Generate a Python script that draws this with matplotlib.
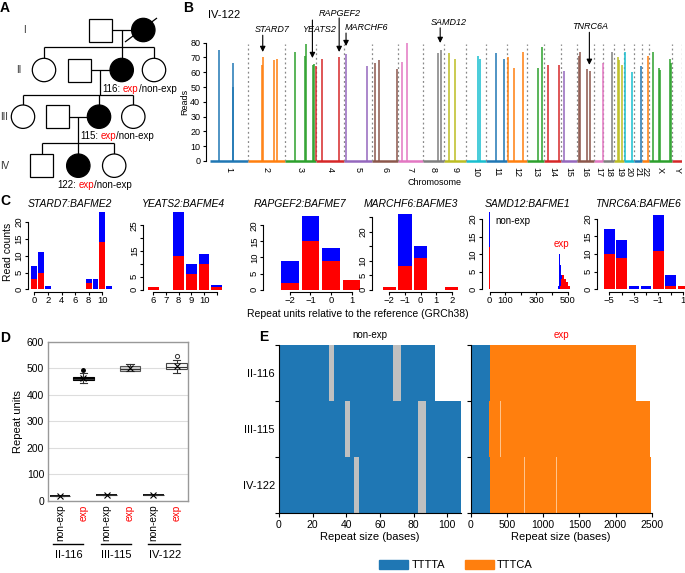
import numpy as np
import matplotlib.pyplot as plt
from matplotlib.patches import Circle, Rectangle, Patch

plt.rcParams['font.family'] = ['Liberation Sans', 'DejaVu Sans']
plt.rcParams['axes.linewidth'] = 0.8

# ---------------- data ----------------
# B: chromosome widths on the plot (Mb) and STR peaks of IV-122
chroms = [str(i) for i in range(1, 23)] + ['X', 'Y']
chrom_len = [247, 244, 201, 187, 179, 170, 164, 141, 140, 133, 136, 135,
             111, 107, 105, 109, 65, 72, 65, 64, 50, 48, 151, 64]
peak_chr = ['1', '1', '1', '2', '2', '2', '2', '3', '3', '3', '3', '3',
            '4', '4', '4', '5', '5', '6', '6', '6', '7', '7', '8', '8',
            '9', '9', '10', '10', '11', '11', '12', '12', '12', '13', '13',
            '14', '14', '15', '16', '16', '16', '16', '17', '18',
            '19', '19', '19', '20', '20', '21', '22', 'X', 'X', 'X', 'X', 'X']
peak_pos = [57, 149, 153, 96, 98, 174, 190, 65, 131, 137, 181, 190,
            2, 39, 153, 11, 149, 20, 48, 168, 28, 59, 102, 118,
            31, 70, 79, 94, 67, 118, 7, 50, 109, 68, 98,
            24, 94, 24, 15, 22, 65, 87, 61, 55,
            24, 31, 52, 5, 48, 46, 43, 24, 65, 74, 138, 144]
peak_reads = [75, 50, 66, 65, 70, 68, 69, 74, 71, 79, 65, 65.5,
              64, 69, 70, 72, 64, 66, 68, 62, 67, 79.5, 73, 75,
              73, 69, 71, 69, 73, 69, 70, 63, 74, 63, 77,
              65, 65, 61, 71, 74, 62, 61, 66, 74,
              70, 68, 65, 74, 60, 64, 71, 74, 63, 61.5, 69, 66]
genes = ['STARD7', 'YEATS2', 'RAPGEF2', 'MARCHF6', 'SAMD12', 'TNRC6A']
gene_chr = ['2', '3', '4', '5', '8', '16']
gene_pos = [98, 181, 153, 11, 118, 87]

# C: read counts per repeat-unit difference (total and expanded allele)
c_titles = ['STARD7:BAFME2', 'YEATS2:BAFME4', 'RAPGEF2:BAFME7',
            'MARCHF6:BAFME3', 'SAMD12:BAFME1', 'TNRC6A:BAFME6']
stard7_x = [0, 1, 2, 8, 9, 10, 11]
stard7_total = [7, 11, 1, 3, 3, 23, 1]
stard7_exp = [3, 5, 0, 2, 0, 14, 0]
yeats2_x = [6, 8, 9, 10, 11]
yeats2_total = [1, 30, 10, 14, 2]
yeats2_exp = [1, 13, 6, 10, 1]
rapgef2_x = [-2, -1, 0, 1]
rapgef2_total = [9, 23, 13, 3]
rapgef2_exp = [2, 15, 9, 3]
marchf6_x = [-2, -1, 0, 2]
marchf6_total = [1, 26, 15, 1]
marchf6_exp = [1, 8, 11, 1]
samd12_x = [0, 444, 450, 456, 462, 468, 474, 480, 486, 492, 498, 504, 510]
samd12_total = [22, 1, 10, 7, 4, 4, 4, 3, 3, 2, 2, 1, 1]
samd12_exp = [12, 0, 0, 1, 3, 4, 4, 3, 3, 2, 2, 1, 1]
tnrc6a_x = [-5, -4, -3, -2, -1, 0, 1]
tnrc6a_total = [17, 14, 1, 1, 21, 4, 1]
tnrc6a_exp = [10, 9, 0, 0, 11, 1, 1]

# D: repeat units (box statistics)
d_labels = ['non-exp', 'exp'] * 3
d_groups = ['II-116', 'III-115', 'IV-122']
d_med = [18, 461, 22, 498, 22, 505]
d_q1 = [18, 455, 22, 491, 22, 498]
d_q3 = [18, 467, 22, 507, 22, 518]
d_lo = [18, 445, 22, 488, 22, 481]
d_hi = [18, 482, 22, 516, 22, 532]
d_mean = [18, 462, 22, 500, 22, 508]
d_out = [[], [492], [], [], [], [547]]

# E: repeat structure (bases)
e_samples = ['II-116', 'III-115', 'IV-122']
ne_len = [93, 108, 108]
ne_other_start = [[30, 67.5], [39, 82.5], [44.5, 82.5]]
ne_other_len = [[2.5, 5], [3, 5], [3, 5]]
ex_len = [2290, 2470, 2495]
ex_ttta_len = [268, 258, 268]
ex_other_start = [[], [406, 2308], [738, 1182]]

# ---------------- figure ----------------
W, H = 685, 573
fig = plt.figure(figsize=(W / 100, H / 100), dpi=100)


def px_axes(x0, y0, x1, y1):
    return fig.add_axes([x0 / W, 1 - y1 / H, (x1 - x0) / W, (y1 - y0) / H])


def ftext(x, y, s, **kw):
    return fig.text(x / W, 1 - y / H, s, **kw)


for lab, (x, y) in zip('ABCDE', [(5, 8), (188, 8), (5, 201), (5, 338), (264, 337)]):
    ftext(x, y, lab, fontsize=10, fontweight='bold', ha='center', va='center')

# ---------------- A: pedigree ----------------
axA = px_axes(0, 0, 190, 195)
axA.set_xlim(0, 190)
axA.set_ylim(195, 0)
axA.axis('off')
lw = 0.9


def ln(x0, y0, x1, y1):
    axA.plot([x0, x1], [y0, y1], color='k', lw=lw, solid_capstyle='butt')


def male(x, y):
    axA.add_patch(Rectangle((x - 11.5, y - 11.5), 23, 23, fc='w', ec='k', lw=lw, zorder=3))


def female(x, y, aff=False):
    axA.add_patch(Circle((x, y), 11.7, fc='k' if aff else 'w', ec='k', lw=lw, zorder=3))


gen_y = [30, 70, 116.7, 165.7]
gen_x = [24, 19, 4.5, 4.5]
for g, y, x in zip(['I', 'II', 'III', 'IV'], gen_y, gen_x):
    axA.text(x, y, g, fontsize=7, ha='center', va='center', color='#333')

male(100, 30); female(143.3, 30, True)
ln(125, 42, 157, 18)
ln(111.5, 30, 131.6, 30); ln(121.7, 30, 121.7, 47)
ln(44, 47, 154, 47)
for x in [44, 121.7, 154]:
    ln(x, 47, x, 58.3)
female(44, 70); male(79, 70); female(121.7, 70, True); female(154, 70)
ln(90.5, 70, 110, 70); ln(100, 70, 100, 95)
ln(23, 95, 133.3, 95)
for x in [23, 99, 133.3]:
    ln(x, 95, x, 105)
female(23, 116.7); male(57.3, 116.7); female(99, 116.7, True); female(133.3, 116.7)
ln(68.8, 116.7, 87.3, 116.7); ln(77.7, 116.7, 77.7, 143.3)
ln(41.7, 143.3, 114.2, 143.3)
for x in [41.7, 78.3, 114.2]:
    ln(x, 143.3, x, 154)
male(41.7, 165.7); female(78.3, 165.7, True); female(114.2, 165.7)


def exp_label(x, y, num):
    t = axA.text(x, y, num + ':', fontsize=7, ha='left', va='center')
    t = axA.annotate('exp', xy=(1, 0), xycoords=t, xytext=(2, 0), textcoords='offset points',
                     fontsize=7, color='red', va='bottom', ha='left')
    axA.annotate('/non-exp', xy=(1, 0), xycoords=t, fontsize=7, va='bottom', ha='left')


for (x, y), num in zip([(102, 89), (80, 136), (57, 185)], ['116', '115', '122']):
    exp_label(x, y, num)

# ---------------- B: genome-wide peaks ----------------
starts = np.concatenate([[0], np.cumsum(chrom_len)[:-1]])
ends = np.cumsum(chrom_len)
offset = dict(zip(chroms, starts))
cols = plt.cm.tab10.colors
axB = px_axes(210, 39.7, 682, 163.2)
for i in range(len(chroms)):
    axB.hlines(0, starts[i], ends[i], color=cols[i % 10], lw=1.8)
axB.vlines(ends, 0, 79, color='#888888', lw=0.9, linestyles=(0, (1.5, 2.2)))
gx = [offset[c] + p for c, p in zip(peak_chr, peak_pos)]
pc = [cols[chroms.index(c) % 10] for c in peak_chr]
axB.vlines(gx, 0, peak_reads, colors=pc, lw=1.1)
axB.set_xlim(0, ends[-1])
axB.set_ylim(-1.5, 82)
for s in ['top', 'right', 'bottom']:
    axB.spines[s].set_visible(False)
axB.spines['left'].set_position(('outward', 3))
axB.spines['left'].set_bounds(0, 80)
axB.set_yticks(range(0, 81, 10))
axB.tick_params(axis='y', labelsize=6.5, length=2.5, pad=1.5)
axB.set_xticks((starts + ends) / 2, chroms, rotation=-90, fontsize=6.5)
axB.tick_params(axis='x', length=0, pad=3)
axB.set_ylabel('Reads', fontsize=6.5, labelpad=1)
ftext(434, 182, 'Chromosome', fontsize=6.5, ha='center', va='center')
ftext(208, 15, 'IV-122', fontsize=8, ha='left', va='center')

# gene arrows (layout: text x, text y, arrow start, arrow tip in plot units)
g_text_x = [404, 714, 851, 884, 1559, 2488]
g_text_y = [88.6, 89, 100, 90, 93.5, 90.6]
g_ha = ['center', 'center', 'center', 'left', 'center', 'center']
g_top = [85, 95.3, 96.7, 86.5, 90, 87]
g_tip = [73.7, 69.6, 73.7, 77.7, 79.8, 65]
g_dx = [0, -2, 0, 0, -4, -5]
for i, g in enumerate(genes):
    x = offset[gene_chr[i]] + gene_pos[i] + g_dx[i]
    axB.text(g_text_x[i], g_text_y[i], g, fontsize=6.5, style='italic',
             ha=g_ha[i], va='center', clip_on=False)
    axB.annotate('', xy=(x, g_tip[i]), xytext=(x, g_top[i]), annotation_clip=False,
                 arrowprops=dict(arrowstyle='-|>', color='k', lw=0.8,
                                 mutation_scale=8, shrinkA=0, shrinkB=0))

# ---------------- C: histograms ----------------
c_data = [(stard7_x, stard7_total, stard7_exp), (yeats2_x, yeats2_total, yeats2_exp),
          (rapgef2_x, rapgef2_total, rapgef2_exp), (marchf6_x, marchf6_total, marchf6_exp),
          (samd12_x, samd12_total, samd12_exp), (tnrc6a_x, tnrc6a_total, tnrc6a_exp)]
c_px = [(28, 113), (143.3, 224), (263.3, 362), (371.7, 460), (481.7, 575), (596.7, 685)]
c_xlim = [(-0.93, 11.57), (5.21, 11.57), (-3.3, 1.51), (-3.13, 2.53), (-50, 548), (-6.03, 1.18)]
c_ytop = [23.6, 30.9, 24.8, 27.5, 22.6, 22.5]
c_title_x = [70, 183, 300, 411, 528, 638]
m = '\u2212'
c_xt = [[0, 2, 4, 6, 8, 10], [6, 7, 8, 9, 10, 11], [-2, -1, 0, 1], [-2, -1, 0, 1, 2],
        [0, 100, 200, 300, 400, 500], [-5, -4, -3, -2, -1, 0, 1]]
c_xtl = [['0', '2', '4', '6', '8', '10'], ['6', '7', '8', '9', '10', ''],
         [m + '2', m + '1', '0', '1'], [m + '2', m + '1', '0', '1', '2'],
         ['0', '100', '', '300', '', '500'], [m + '5', '', m + '3', '', m + '1', '', '1']]
c_yt = [range(0, 21, 5), range(0, 26, 5), range(0, 21, 5), range(0, 26, 5),
        range(0, 21, 5), range(0, 21, 5)]
c_ytl = [['0', '5', '10', '15', '20'], ['0', '5', '', '15', '', '25'],
         ['0', '5', '10', '15', '20'], ['0', '5', '10', '', '20', ''],
         ['0', '5', '10', '15', '20'], ['0', '5', '10', '15', '20']]
for k, (x, tot, ex) in enumerate(c_data):
    ax = px_axes(c_px[k][0], 210, c_px[k][1], 290.5)
    x = np.asarray(x, float)
    tot = np.asarray(tot, float)
    ex = np.asarray(ex, float)
    if k == 4:
        wd = np.where(x == 0, 12, 6)
    else:
        wd = 0.85
    ax.bar(x, ex, wd, color='#ff0000', lw=0)
    ax.bar(x, tot - ex, wd, bottom=ex, color='#0000ff', lw=0)
    ax.set_xlim(*c_xlim[k])
    ax.set_ylim(-0.3, c_ytop[k])
    for s in ['top', 'right']:
        ax.spines[s].set_visible(False)
    ax.spines['bottom'].set_position(('outward', 1))
    ax.spines['bottom'].set_bounds(c_xt[k][0], c_xt[k][-1])
    ax.spines['left'].set_bounds(0, list(c_yt[k])[-1])
    ax.set_xticks(c_xt[k], c_xtl[k])
    ax.set_yticks(list(c_yt[k]))
    ax.set_yticklabels(c_ytl[k], rotation=90, va='center')
    ax.tick_params(labelsize=6.8, length=2.2, pad=1)
    ftext(c_title_x[k], 204, c_titles[k], fontsize=7.5, style='italic', ha='center', va='center')
    if k == 4:
        ax.text(38, 19.4, 'non-exp', fontsize=7, ha='left', va='center')
        ax.text(462, 12.9, 'exp', fontsize=7, color='red', ha='center', va='center')
ftext(8, 252, 'Read counts', fontsize=7.5, rotation=90, ha='center', va='center')
ftext(358, 314, 'Repeat units relative to the reference (GRCh38)', fontsize=7.5,
      ha='center', va='center')

# ---------------- D: box plot ----------------
axD = px_axes(48.3, 341.7, 188.3, 500.7)
stats = []
for i in range(6):
    stats.append(dict(med=d_med[i], q1=d_q1[i], q3=d_q3[i], whislo=d_lo[i],
                      whishi=d_hi[i], mean=d_mean[i], fliers=d_out[i]))
pos = np.arange(1, 7)
bp = axD.bxp(stats, positions=pos, widths=0.88, showmeans=True, patch_artist=True,
             capwidths=0.32,
             meanprops=dict(marker='x', markeredgecolor='k', markersize=4, markeredgewidth=0.8),
             medianprops=dict(color='#333333', lw=0.8),
             whiskerprops=dict(color='#333333', lw=0.8),
             capprops=dict(color='#333333', lw=0.8),
             boxprops=dict(lw=0.8))
box_fc = ['k', 'k', 'k', '#d0d0d0', 'k', '#f8f8f8']
box_ec = ['k', 'k', 'k', '#555555', 'k', '#444444']
for b, fc, ec in zip(bp['boxes'], box_fc, box_ec):
    b.set_facecolor(fc)
    b.set_edgecolor(ec)
for i in [0, 2, 4]:
    bp['boxes'][i].set_linewidth(1.3)
bp['fliers'][1].set(marker='o', markerfacecolor='k', markeredgecolor='k', markersize=2.5)
bp['fliers'][5].set(marker='o', markerfacecolor='w', markeredgecolor='#333333',
                    markersize=3, markeredgewidth=0.7)
axD.set_xlim(0.5, 6.5)
axD.set_ylim(0, 600)
axD.set_yticks(range(0, 601, 100))
axD.yaxis.grid(True, color='#dddddd', lw=0.8)
axD.set_axisbelow(True)
for s in axD.spines.values():
    s.set_color('#999999')
    s.set_linewidth(1.0)
axD.tick_params(axis='y', length=0, labelsize=7.5, pad=3)
axD.set_xticks(pos, d_labels, rotation=90, va='top')
axD.tick_params(axis='x', length=0, labelsize=7.3, pad=3)
for lbl, c in zip(axD.get_xticklabels(), ['k', 'red'] * 3):
    lbl.set_color(c)
axD.set_ylabel('Repeat units', fontsize=8, labelpad=3)
tr = axD.get_xaxis_transform()
for (x0, x1), xc, g in zip([(0.71, 2.0), (2.75, 4.03), (4.79, 6.14)], [1.39, 3.43, 5.5], d_groups):
    axD.plot([x0, x1], [-0.272, -0.272], color='k', lw=1.0, transform=tr, clip_on=False)
    axD.text(xc, -0.342, g, fontsize=8, ha='center', va='center', transform=tr)

# ---------------- E: repeat structure ----------------
blue, orange, grey = '#1f77b4', '#ff7f0e', '#c0c0c0'
rows = np.arange(3)
axE1 = px_axes(279, 345, 460.7, 513.3)
axE1.barh(rows, ne_len, height=1.0, color=blue, lw=0)
for r in rows:
    axE1.barh(r, ne_other_len[r], left=ne_other_start[r], height=1.0, color=grey, lw=0)
axE1.set_xlim(0, 108)
axE1.set_xticks(range(0, 101, 20))

axE2 = px_axes(470.7, 345, 651.7, 513.3)
axE2.barh(rows, ex_len, height=1.0, color=orange, lw=0)
axE2.barh(rows, ex_ttta_len, height=1.0, color=blue, lw=0)
for r in rows:
    if ex_other_start[r]:
        axE2.barh(r, 8, left=ex_other_start[r], height=1.0, color='#ffc38a', lw=0)
axE2.set_xlim(0, 2500)
axE2.set_xticks(range(0, 2501, 500))

for ax, title, tc in [(axE1, 'non-exp', 'k'), (axE2, 'exp', 'red')]:
    ax.set_ylim(2.5, -0.5)
    ax.set_yticks([-0.5, 0.5, 1.5, 2.5])
    ax.set_yticklabels([])
    for s in ['top', 'right']:
        ax.spines[s].set_visible(False)
    ax.tick_params(labelsize=7.5, length=3, pad=2)
    ax.set_xlabel('Repeat size (bases)', fontsize=8, labelpad=1)
    ax.set_title(title, fontsize=7, color=tc, pad=5)
axE1.set_yticks(rows, e_samples, minor=True)
axE1.tick_params(axis='y', which='minor', length=0, labelsize=8, pad=3)

fig.legend([Patch(color=blue), Patch(color=orange)], ['TTTTA', 'TTTCA'],
           loc='center', bbox_to_anchor=(456 / W, 1 - 565 / H), ncol=2, frameon=False,
           fontsize=8, handlelength=2.6, handleheight=0.9, handletextpad=0.3,
           columnspacing=1.8, borderpad=0)

fig.savefig('out.png', dpi=100)
